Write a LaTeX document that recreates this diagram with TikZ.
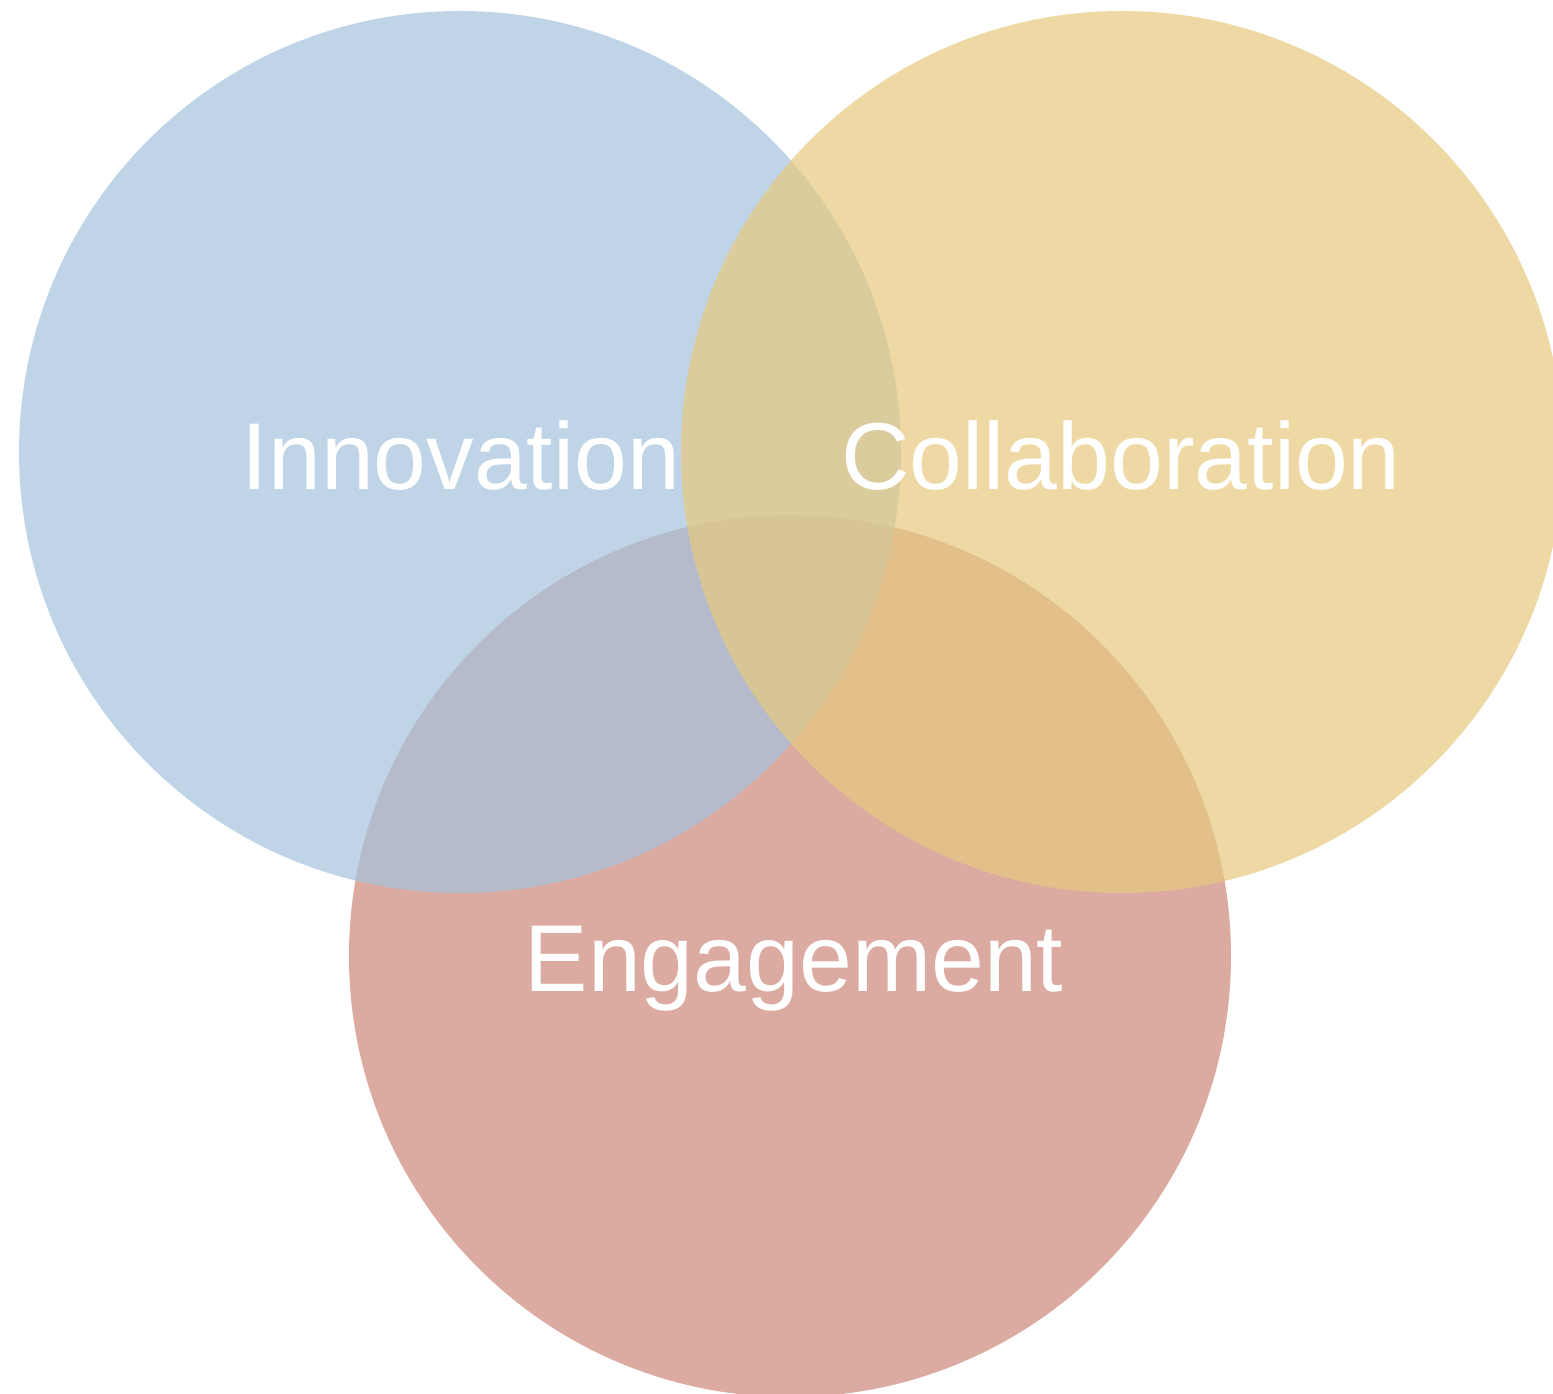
\documentclass[tikz,border=0pt]{standalone}
\usepackage{fontspec}
\setmainfont{Liberation Sans}
\definecolor{cblue}{RGB}{165,194,221}
\definecolor{cyellow}{RGB}{231,202,128}
\definecolor{cred}{RGB}{205,136,122}
\begin{document}
\begin{tikzpicture}[x=1pt,y=-1pt,
  setcircle/.style={fill opacity=0.7},
  setlabel/.style={text=white,font=\fontsize{95}{114}\selectfont,inner sep=0pt,anchor=base}]
\useasboundingbox (0,0) rectangle (1553,1394);
\clip (0,0) rectangle (1553,1394);
\fill[white] (0,0) rectangle (1553,1394);
\fill[cred,setcircle] (790,956) circle[radius=441];
\fill[cblue,setcircle] (460,452) circle[radius=441];
\fill[cyellow,setcircle] (1122,452) circle[radius=441];
\node[setlabel] (inno) at (461,489) {Innovation};
\node[setlabel] (coll) at (1121,489) {Collaboration};
\node[setlabel] (enga) at (794,991) {Engagement};
\end{tikzpicture}
\end{document}
